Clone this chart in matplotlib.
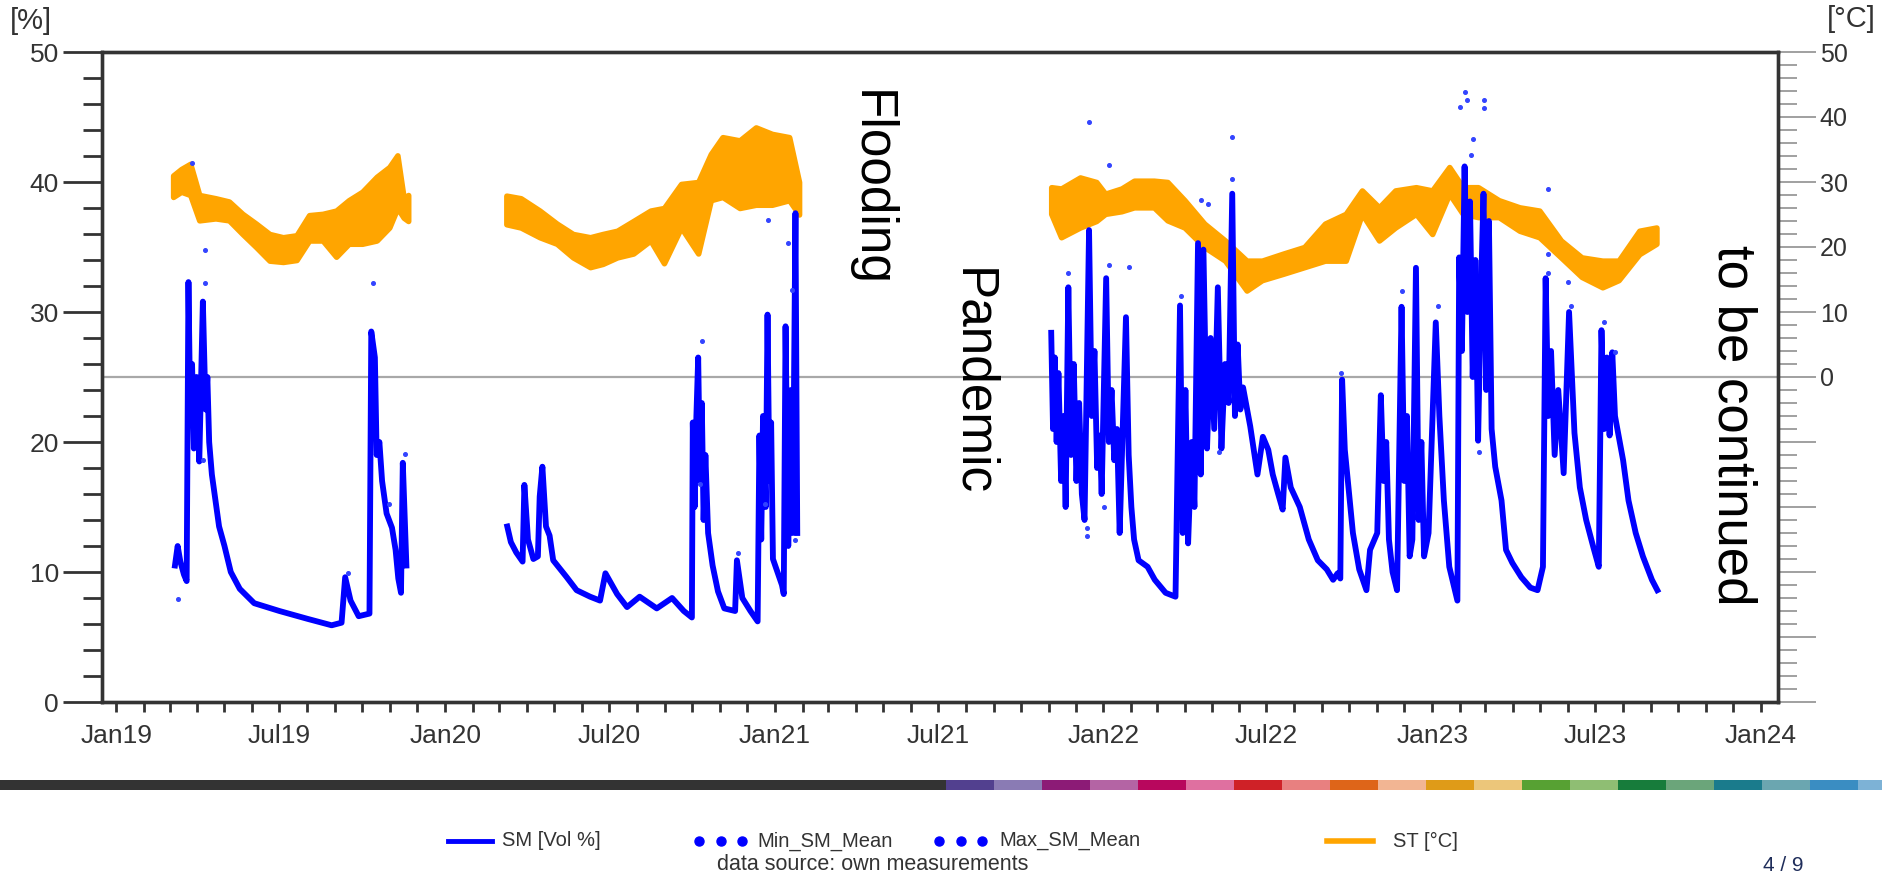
import matplotlib
matplotlib.use("Agg")
import matplotlib.pyplot as plt
import matplotlib.dates as mdates
from matplotlib import font_manager
from matplotlib.ticker import MultipleLocator, FixedLocator, FuncFormatter
import pandas as pd

plt.rcParams['font.family'] = ['Liberation Sans', 'DejaVu Sans']

# ---- soil moisture SM [Vol %], three measuring campaigns
sm_2019_dates = ["2019-03-07", "2019-03-10", "2019-03-13", "2019-03-17", "2019-03-20", "2019-03-22",
                 "2019-03-24", "2019-03-26", "2019-03-28", "2019-03-31", "2019-04-03", "2019-04-07",
                 "2019-04-10", "2019-04-12", "2019-04-14", "2019-04-17", "2019-04-21", "2019-04-25",
                 "2019-05-01", "2019-05-08", "2019-05-18", "2019-06-03", "2019-07-01", "2019-08-01",
                 "2019-08-28", "2019-09-08", "2019-09-12", "2019-09-18", "2019-09-27", "2019-10-09",
                 "2019-10-11", "2019-10-15", "2019-10-17", "2019-10-20", "2019-10-23", "2019-10-28",
                 "2019-11-03", "2019-11-07", "2019-11-10", "2019-11-13", "2019-11-15", "2019-11-19"]
sm_2019 = [10.5, 12.0, 10.8, 9.8, 9.3, 32.3,
           22.0, 26.0, 19.5, 25.0, 18.5, 30.8,
           22.5, 25.0, 20.0, 17.5, 15.5, 13.5,
           12.0, 10.0, 8.7, 7.6, 7.0, 6.4,
           5.9, 6.1, 9.6, 7.8, 6.6, 6.8,
           28.5, 26.5, 19.0, 20.0, 17.0, 14.5,
           13.4, 11.7, 9.5, 8.4, 18.4, 10.5]

sm_2020_dates = ["2020-03-10", "2020-03-14", "2020-03-20", "2020-03-27", "2020-03-29", "2020-04-02",
                 "2020-04-08", "2020-04-13", "2020-04-15", "2020-04-18", "2020-04-22", "2020-04-26",
                 "2020-04-30", "2020-05-15", "2020-05-26", "2020-06-10", "2020-06-21", "2020-06-27",
                 "2020-07-10", "2020-07-21", "2020-08-04", "2020-08-23", "2020-09-09", "2020-09-22",
                 "2020-10-01", "2020-10-02", "2020-10-04", "2020-10-06", "2020-10-08", "2020-10-10",
                 "2020-10-12", "2020-10-14", "2020-10-16", "2020-10-19", "2020-10-24", "2020-10-30",
                 "2020-11-06", "2020-11-18", "2020-11-20", "2020-11-26", "2020-12-05", "2020-12-13",
                 "2020-12-15", "2020-12-17", "2020-12-19", "2020-12-22", "2020-12-24", "2020-12-26",
                 "2020-12-28", "2020-12-30", "2021-01-04", "2021-01-09", "2021-01-11", "2021-01-13",
                 "2021-01-16", "2021-01-19", "2021-01-21", "2021-01-24", "2021-01-26"]
sm_2020 = [13.5, 12.3, 11.5, 10.8, 16.7, 12.5,
           11.0, 11.2, 15.8, 18.1, 13.5, 12.8,
           10.9, 9.6, 8.6, 8.1, 7.8, 9.9,
           8.3, 7.3, 8.1, 7.2, 8.0, 7.0,
           6.5, 21.5, 15.0, 22.0, 26.5, 17.0,
           23.0, 14.0, 19.0, 13.0, 10.5, 8.5,
           7.2, 7.0, 10.9, 8.0, 7.0, 6.2,
           20.5, 12.5, 22.0, 15.0, 29.8, 17.0,
           21.5, 11.0, 10.0, 9.0, 8.3, 28.9,
           12.0, 24.0, 13.0, 37.6, 13.0]

sm_2022_dates = ["2021-11-04", "2021-11-06", "2021-11-08", "2021-11-10", "2021-11-12", "2021-11-15",
                 "2021-11-18", "2021-11-20", "2021-11-23", "2021-11-26", "2021-11-29", "2021-12-02",
                 "2021-12-05", "2021-12-08", "2021-12-11", "2021-12-16", "2021-12-19", "2021-12-22",
                 "2021-12-25", "2021-12-28", "2021-12-30", "2022-01-04", "2022-01-07", "2022-01-10",
                 "2022-01-13", "2022-01-16", "2022-01-19", "2022-01-26", "2022-01-29", "2022-02-01",
                 "2022-02-04", "2022-02-09", "2022-02-19", "2022-02-27", "2022-03-11", "2022-03-22",
                 "2022-03-27", "2022-03-30", "2022-04-02", "2022-04-05", "2022-04-09", "2022-04-12",
                 "2022-04-16", "2022-04-19", "2022-04-22", "2022-04-26", "2022-04-30", "2022-05-04",
                 "2022-05-08", "2022-05-12", "2022-05-16", "2022-05-20", "2022-05-24", "2022-05-27",
                 "2022-05-30", "2022-06-02", "2022-06-05", "2022-06-13", "2022-06-21", "2022-06-27",
                 "2022-07-03", "2022-07-08", "2022-07-14", "2022-07-19", "2022-07-22", "2022-07-28",
                 "2022-08-07", "2022-08-17", "2022-08-27", "2022-09-06", "2022-09-13", "2022-09-18",
                 "2022-09-21", "2022-09-23", "2022-09-26", "2022-10-05", "2022-10-12", "2022-10-20",
                 "2022-10-24", "2022-11-01", "2022-11-05", "2022-11-08", "2022-11-11", "2022-11-14",
                 "2022-11-18", "2022-11-23", "2022-11-28", "2022-12-01", "2022-12-04", "2022-12-07",
                 "2022-12-10", "2022-12-14", "2022-12-17", "2022-12-20", "2022-12-23", "2022-12-28",
                 "2023-01-05", "2023-01-09", "2023-01-14", "2023-01-20", "2023-01-29", "2023-01-31",
                 "2023-02-03", "2023-02-06", "2023-02-09", "2023-02-12", "2023-02-15", "2023-02-18",
                 "2023-02-21", "2023-02-24", "2023-02-27", "2023-03-02", "2023-03-05", "2023-03-08",
                 "2023-03-12", "2023-03-19", "2023-03-24", "2023-03-31", "2023-04-10", "2023-04-20",
                 "2023-04-28", "2023-05-04", "2023-05-07", "2023-05-10", "2023-05-13", "2023-05-17",
                 "2023-05-21", "2023-05-27", "2023-06-02", "2023-06-08", "2023-06-14", "2023-06-21",
                 "2023-06-29", "2023-07-05", "2023-07-08", "2023-07-11", "2023-07-14", "2023-07-17",
                 "2023-07-20", "2023-07-23", "2023-08-01", "2023-08-07", "2023-08-15", "2023-08-23",
                 "2023-09-02", "2023-09-08"]
sm_2022 = [28.4, 21.0, 26.5, 20.0, 25.3, 17.0,
           22.0, 15.0, 31.9, 19.0, 26.0, 17.0,
           23.0, 16.0, 14.0, 36.3, 22.0, 27.0,
           18.0, 20.5, 16.0, 32.6, 20.0, 24.0,
           18.6, 21.0, 13.0, 29.6, 19.0, 15.0,
           12.5, 10.9, 10.4, 9.4, 8.4, 8.1,
           30.5, 13.0, 24.0, 12.2, 20.0, 15.0,
           35.3, 17.5, 34.8, 19.5, 28.0, 21.0,
           31.9, 19.5, 26.0, 23.0, 39.1, 22.0,
           27.5, 22.5, 24.2, 21.2, 17.5, 20.4,
           19.4, 17.5, 16.0, 14.8, 18.8, 16.5,
           15.0, 12.5, 10.9, 10.2, 9.4, 9.9,
           9.5, 24.8, 19.4, 13.0, 10.2, 8.6,
           11.7, 13.0, 23.6, 17.0, 20.0, 12.5,
           10.0, 8.6, 30.4, 17.0, 22.0, 11.2,
           12.5, 33.4, 14.0, 20.0, 11.2, 13.0,
           29.2, 22.0, 15.5, 10.4, 7.8, 34.2,
           27.0, 41.2, 30.0, 38.5, 25.0, 34.0,
           20.1, 31.0, 39.1, 24.0, 37.0, 21.0,
           18.1, 15.5, 11.7, 10.7, 9.6, 8.8,
           8.6, 10.4, 32.6, 22.0, 27.0, 19.0,
           24.0, 17.6, 30.0, 20.7, 16.5, 14.0,
           11.9, 10.4, 28.6, 21.0, 26.5, 20.5,
           26.9, 22.0, 18.6, 15.5, 13.0, 11.2,
           9.4, 8.6]

# single extreme readings
max_dates = ["2019-03-26", "2019-04-09", "2019-04-09", "2019-09-15", "2019-10-13", "2019-10-31", "2019-11-17",
             "2020-10-12", "2020-11-21", "2020-12-25", "2021-01-16", "2021-01-20",
             "2021-11-23", "2021-12-16", "2022-01-07", "2022-01-07", "2022-01-29", "2022-03-28",
             "2022-04-19", "2022-04-27", "2022-05-24", "2022-05-24", "2022-09-22", "2022-11-29",
             "2023-01-07", "2023-02-01", "2023-02-07", "2023-02-09", "2023-02-13", "2023-02-15",
             "2023-02-27", "2023-02-27", "2023-05-10", "2023-05-10", "2023-05-10", "2023-06-01",
             "2023-06-04", "2023-07-11", "2023-07-23"]
max_sm = [41.5, 34.8, 32.2, 9.9, 32.2, 15.2, 19.1,
          27.8, 11.5, 37.1, 35.3, 31.7,
          33.0, 44.6, 41.3, 33.6, 33.5, 31.2,
          38.6, 38.3, 43.5, 40.2, 25.3, 31.6,
          30.5, 45.8, 46.9, 46.3, 42.1, 43.3,
          46.3, 45.7, 39.5, 34.5, 33.0, 32.3,
          30.5, 29.2, 26.9]
min_dates = ["2019-03-10", "2019-04-07", "2020-10-10", "2020-12-21", "2021-01-24",
             "2021-12-14", "2021-12-14", "2022-01-02", "2022-05-09", "2023-02-22"]
min_sm = [7.9, 18.6, 16.8, 15.2, 12.5, 13.4, 12.8, 15.0, 19.2, 19.2]

# ---- soil temperature ST [°C]: daily low / high band
st_2019_dates = ["2019-03-05", "2019-03-14", "2019-03-24", "2019-04-03", "2019-04-21", "2019-05-06",
                 "2019-05-21", "2019-06-05", "2019-06-20", "2019-07-05", "2019-07-20", "2019-08-03",
                 "2019-08-18", "2019-09-02", "2019-09-16", "2019-10-01", "2019-10-17", "2019-10-31",
                 "2019-11-09", "2019-11-16", "2019-11-21"]
st_2019_lo = [27.7, 28.5, 28.0, 24.1, 24.4, 24.1, 22.0, 20.0, 17.9, 17.7, 18.0, 21.0,
              21.0, 18.5, 20.5, 20.5, 21.0, 23.0, 26.0, 24.5, 24.0]
st_2019_hi = [31.0, 32.0, 32.8, 28.0, 27.5, 27.0, 25.1, 23.6, 22.0, 21.5, 21.8, 24.9,
              25.1, 25.6, 27.2, 28.5, 30.8, 32.3, 34.1, 27.5, 28.0]

st_2020_dates = ["2020-03-09", "2020-03-25", "2020-04-15", "2020-05-04", "2020-05-22", "2020-06-10",
                 "2020-06-24", "2020-07-10", "2020-07-28", "2020-08-16", "2020-08-31", "2020-09-19",
                 "2020-10-08", "2020-10-22", "2020-11-04", "2020-11-23", "2020-12-11", "2020-12-29",
                 "2021-01-17", "2021-01-28"]
st_2020_lo = [23.5, 23.0, 21.5, 20.5, 18.4, 16.9, 17.4, 18.4, 19.0, 21.0, 17.5, 23.0,
              19.0, 27.2, 27.7, 26.0, 26.5, 26.5, 27.2, 25.0]
st_2020_hi = [27.9, 27.5, 25.6, 23.6, 22.0, 21.5, 22.0, 22.5, 24.0, 25.6, 26.0, 29.7,
              30.0, 34.3, 36.9, 36.4, 38.4, 37.4, 36.9, 30.0]

st_2022_dates = ["2021-11-04", "2021-11-15", "2021-12-06", "2021-12-24", "2022-01-03", "2022-01-21",
                 "2022-02-04", "2022-02-26", "2022-03-13", "2022-04-01", "2022-04-23", "2022-05-16",
                 "2022-06-09", "2022-06-26", "2022-07-20", "2022-08-12", "2022-09-04", "2022-09-27",
                 "2022-10-15", "2022-11-03", "2022-11-21", "2022-12-14", "2023-01-01", "2023-01-20",
                 "2023-02-04", "2023-02-21", "2023-03-16", "2023-04-08", "2023-04-30", "2023-05-24",
                 "2023-06-16", "2023-07-09", "2023-07-27", "2023-08-19", "2023-09-07"]
st_2022_lo = [25.1, 21.5, 23.0, 24.0, 25.1, 25.5, 26.1, 26.1, 24.1, 23.0, 20.0, 17.9,
              13.3, 14.9, 15.9, 16.9, 17.9, 17.9, 25.1, 21.0, 23.0, 25.1, 22.0, 28.2,
              25.1, 24.6, 24.6, 22.5, 21.5, 18.4, 15.4, 13.8, 14.9, 18.9, 20.5]
st_2022_hi = [29.2, 29.0, 30.7, 30.0, 28.2, 29.0, 30.2, 30.2, 30.0, 27.2, 23.6, 21.0,
              17.9, 17.9, 19.0, 20.0, 23.6, 25.1, 28.7, 26.1, 28.7, 29.2, 28.7, 32.3,
              29.2, 29.2, 27.2, 26.1, 25.6, 21.0, 18.4, 17.9, 17.9, 22.5, 23.0]

strip_colors = ["#52408f", "#8a7bb4", "#8c1b76", "#b464a4", "#b8075d", "#df70a0", "#cf2127",
                "#e88080", "#de6519", "#f2b593", "#df9b18", "#ecc67a", "#57a133", "#8fbe73",
                "#177c3b", "#6ba57a", "#1a7b8c", "#6ba6b0", "#3a8dc2", "#7db2d6"]

BLUE = "#0000ff"
ORANGE = "#ffa500"
DARK = "#333333"

narrow = "Liberation Sans Narrow"
have_narrow = any(f.name == narrow for f in font_manager.fontManager.ttflist)
leg_family = [narrow, "Liberation Sans"] if have_narrow else ["Liberation Sans"]
leg_size = 17 if have_narrow else 14.5

fig = plt.figure(figsize=(18.83, 8.77), dpi=100)
W, H = 1883, 877

ax = fig.add_axes([102 / W, 1 - 702 / H, (1778 - 102) / W, 650 / H])
ax2 = ax.twinx()
ax.set_zorder(ax2.get_zorder() + 1)
ax.patch.set_visible(False)

# temperature band (right axis)
for d, lo, hi in [(st_2019_dates, st_2019_lo, st_2019_hi),
                  (st_2020_dates, st_2020_lo, st_2020_hi),
                  (st_2022_dates, st_2022_lo, st_2022_hi)]:
    ax2.fill_between(pd.to_datetime(d), lo, hi, color=ORANGE, lw=4, edgecolor=ORANGE)
ax2.axhline(0, color="#a8a8a8", lw=1.6, zorder=0)

# soil moisture (left axis)
for d, v in [(sm_2019_dates, sm_2019), (sm_2020_dates, sm_2020), (sm_2022_dates, sm_2022)]:
    ax.plot(pd.to_datetime(d), v, color=BLUE, lw=4.2)
ax.plot(pd.to_datetime(max_dates), max_sm, ls="none", marker="o", ms=2.6, color="#3344ff")
ax.plot(pd.to_datetime(min_dates), min_sm, ls="none", marker="o", ms=2.6, color="#3344ff")

# annotations
ax.text(pd.Timestamp("2021-04-17"), 39.5, "Flooding", rotation=270, fontsize=37,
        ha="center", va="center")
ax.text(pd.Timestamp("2021-08-08"), 24.6, "Pandemic", rotation=270, fontsize=37,
        ha="center", va="center")
ax.text(pd.Timestamp("2023-12-01"), 21.3, "to be continued", rotation=270, fontsize=38,
        ha="center", va="center")

# axes
ax.set_xlim(pd.Timestamp("2018-12-16"), pd.Timestamp("2024-01-20"))
ax.set_ylim(0, 50)
ax2.set_ylim(-50, 50)

ax.xaxis.set_major_locator(mdates.MonthLocator(bymonth=[1, 7]))
ax.xaxis.set_minor_locator(mdates.MonthLocator())
ax.xaxis.set_major_formatter(mdates.DateFormatter("%b%y"))
ax.yaxis.set_major_locator(MultipleLocator(10))
ax.yaxis.set_minor_locator(MultipleLocator(2))
ax2.yaxis.set_major_locator(FixedLocator(range(-50, 51, 10)))
ax2.yaxis.set_minor_locator(MultipleLocator(2))
ax2.yaxis.set_major_formatter(FuncFormatter(lambda v, p: f"{v:.0f}" if v >= 0 else ""))

ax.tick_params(axis="x", which="both", length=7, width=2, color=DARK, labelsize=19,
               labelcolor=DARK, pad=9)
ax.tick_params(axis="y", which="major", length=28, width=2, color=DARK, labelsize=19,
               labelcolor=DARK, pad=3)
ax.tick_params(axis="y", which="minor", length=14, width=2, color=DARK)
ax2.tick_params(axis="y", which="major", length=27, width=1.4, color="#a0a0a0", labelsize=18,
                labelcolor=DARK, pad=3)
ax2.tick_params(axis="y", which="minor", length=14, width=1.4, color="#a0a0a0")

for a in (ax, ax2):
    for s in a.spines.values():
        s.set_color(DARK)
        s.set_linewidth(2.4)

fig.text(31 / W, 1 - 21 / H, "[%]", ha="center", va="center", fontsize=21, color=DARK)
fig.text(1851 / W, 1 - 19 / H, "[°C]", ha="center", va="center", fontsize=21, color=DARK)

# footer: colour strip, legend row, source, page number (pixel coordinates)
foot = fig.add_axes([0, 0, 1, 1], zorder=-1)
foot.set_xlim(0, W)
foot.set_ylim(H, 0)
foot.axis("off")
foot.broken_barh([(0, 946)], (780, 10), facecolor=DARK)
for i, c in enumerate(strip_colors):
    foot.broken_barh([(946 + 48 * i, 48)], (780, 10), facecolor=c)

ly = 841
foot.plot([448, 492], [ly, ly], color=BLUE, lw=3.5)
foot.text(502, ly, "SM [Vol %]", va="center", fontsize=leg_size, color=DARK, family=leg_family)
foot.plot([699, 721, 742], [ly] * 3, ls="none", marker="o", ms=6.5, color=BLUE)
foot.text(757, ly, "Min_SM_Mean", va="center", fontsize=leg_size, color=DARK, family=leg_family)
foot.plot([939, 961, 982], [ly] * 3, ls="none", marker="o", ms=6.5, color=BLUE)
foot.text(999, ly, "Max_SM_Mean", va="center", fontsize=leg_size, color=DARK, family=leg_family)
foot.plot([1327, 1373], [ly, ly], color=ORANGE, lw=4)
foot.text(1393, ly, "ST [°C]", va="center", fontsize=leg_size, color=DARK, family=leg_family)
foot.text(717, 864, "data source: own measurements", va="center", fontsize=leg_size + 1,
          color=DARK, family=leg_family)
foot.text(1783, 875, "4 / 9", ha="center", va="bottom", fontsize=15, color="#1f2d5a")

fig.savefig("out.png", dpi=100)
